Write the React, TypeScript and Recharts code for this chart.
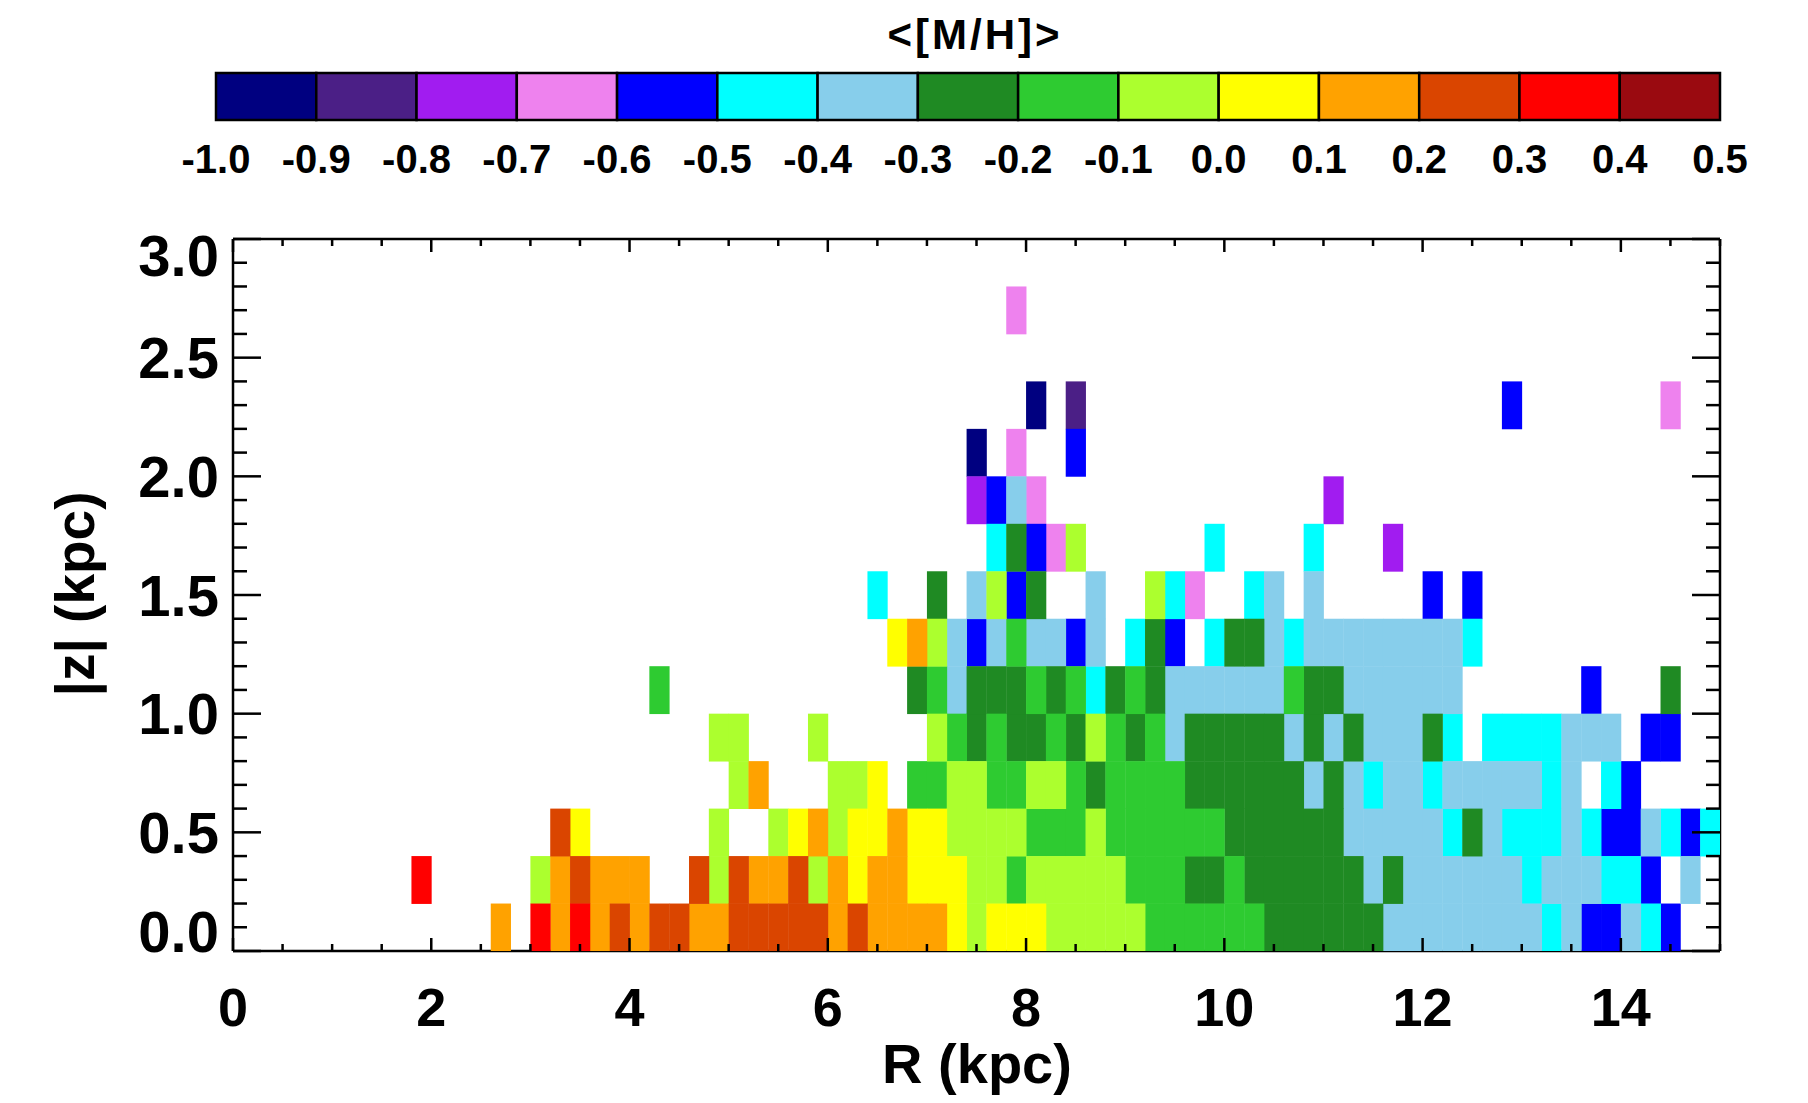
import React from 'react'
import { ScatterChart, Scatter, XAxis, YAxis } from 'recharts'

// <[M/H]> colour bins: edges and colours (lowest bin first)
const mhEdges = [-1.0, -0.9, -0.8, -0.7, -0.6, -0.5, -0.4, -0.3, -0.2, -0.1, 0.0, 0.1, 0.2, 0.3, 0.4, 0.5]
const mhColors = [
  '#000080', '#4b1f86', '#a11cf0', '#ee82ee', '#0000ff', '#00ffff', '#87ceeb', '#1f8a23',
  '#2ecb31', '#acff2e', '#ffff00', '#ffa200', '#da4500', '#ff0000', '#9a0a10',
]
// letter used in the map below for each colour bin ('.' = empty bin)
const binLetters = 'abcdefghijklmno'

const R_STEP = 0.2
const Z_STEP = 0.2

// mean [M/H] map, one string per |z| bin (0.0-0.2 kpc first),
// one letter per R bin of 0.2 kpc starting at R = 0 (grouped by 10)
const z00 = '.......... ...l.nlnlm lmmllmmmmm lmllllkjkk kjjjjjiiii iihhhhhhgg ggggggfgee gfe..'
const z02 = '.........n .....jlmll l..mjmllmj lkllkkkjji jjjjjiiihh ihhhhhhghg gggggfgggf fe.g.'
const z04 = '.......... ......mk.. ....j..jkl jkklkkjjjj iiijiiiiii hhhhhhgggg gfhgfffgfe egfef'
const z06 = '.......... .......... .....jl... jjk.iijjii jjihiiiihh hhhhghgfgg fgggggfg.f e....'
const z08 = '.......... .......... ....jj...j .....jihih hihjihighh hhhghghggg hf.ffffggg .ee..'
const z10 = '.......... .......... .i........ ....highhh ihifhihggg gggihhgggg gg......e. ..h..'
const z12 = '.......... .......... .......... ...kljgegi ggeg.fhe.f hhgfgggggg ggf....... .....'
const z14 = '.......... .......... .......... ..f..h.gje h..g..jfd. .fg.g..... e.e....... .....'
const z16 = '.......... .......... .......... ........fh edj......f ....f...c. .......... .....'
const z18 = '.......... .......... .......... .......ceg d......... .....c.... .......... .....'
const z20 = '.......... .......... .......... .......a.d ..e....... .......... .......... .....'
const z22 = '.......... .......... .......... .......... a.b....... .......... ....e..... ..d..'
const z24 = '.......... .......... .......... .......... .......... .......... .......... .....'
const z26 = '.......... .......... .......... .........d .......... .......... .......... .....'
const zRows = [z00, z02, z04, z06, z08, z10, z12, z14, z16, z18, z20, z22, z24, z26]

const xTicks = [0, 0.5, 1, 1.5, 2, 2.5, 3, 3.5, 4, 4.5, 5, 5.5, 6, 6.5, 7, 7.5, 8, 8.5, 9, 9.5, 10, 10.5, 11, 11.5, 12, 12.5, 13, 13.5, 14, 14.5, 15]
const xMajorTicks = [0, 2, 4, 6, 8, 10, 12, 14]
const yTicks = [0, 0.1, 0.2, 0.3, 0.4, 0.5, 0.6, 0.7, 0.8, 0.9, 1.0, 1.1, 1.2, 1.3, 1.4, 1.5, 1.6, 1.7, 1.8, 1.9, 2.0, 2.1, 2.2, 2.3, 2.4, 2.5, 2.6, 2.7, 2.8, 2.9, 3.0]
const yMajorTicks = [0, 0.5, 1.0, 1.5, 2.0, 2.5, 3.0]
const cbTicks = mhEdges

type Cell = { r: number; z: number; bin: number }

const cells: Cell[] = []
zRows.forEach((row, j) => {
  row.replace(/ /g, '').split('').forEach((ch, i) => {
    const bin = binLetters.indexOf(ch)
    if (bin >= 0) cells.push({ r: (i + 0.5) * R_STEP, z: (j + 0.5) * Z_STEP, bin })
  })
})

const segments = mhColors.map((_, k) => ({ v: (mhEdges[k] + mhEdges[k + 1]) / 2, y: 0.5, bin: k }))

// layout
const W = 1792
const H = 1087
const M = { top: 230, right: 79, bottom: 44, left: 110 }
const Y_AXIS_W = 115
const X_AXIS_H = 100
const TOP_AXIS_H = 1
const RIGHT_AXIS_W = 1
const PLOT_W = W - M.left - Y_AXIS_W - M.right - RIGHT_AXIS_W
const PLOT_H = H - M.top - M.bottom - X_AXIS_H - TOP_AXIS_H
const CELL_W = (PLOT_W * R_STEP) / 15
const CELL_H = (PLOT_H * Z_STEP) / 3

const CB_H = 200
const CB_M = { top: 65, right: 80, bottom: 20, left: 208 }
const CB_AXIS_H = 68
const CB_PLOT_W = W - CB_M.left - CB_M.right
const CB_PLOT_H = CB_H - CB_M.top - CB_M.bottom - CB_AXIS_H
const SEG_W = CB_PLOT_W / mhColors.length

const font = '"Liberation Sans", Arial, Helvetica, sans-serif'
const lineW = 2.5

function BottomTick(props: any) {
  const { x, y, payload } = props
  const v = payload.value
  const major = xMajorTicks.includes(v)
  return (
    <g>
      <line x1={x} x2={x} y1={y} y2={y - (major ? 13 : 7)} stroke="#000" strokeWidth={lineW} />
      {major && (
        <text x={x} y={y + 56} textAnchor="middle" dominantBaseline="central" fontFamily={font} fontWeight="bold" fontSize={54} fill="#000">
          {v}
        </text>
      )}
    </g>
  )
}

function TopTick(props: any) {
  const { x, y, payload } = props
  const major = xMajorTicks.includes(payload.value)
  return <line x1={x} x2={x} y1={y} y2={y + (major ? 13 : 7)} stroke="#000" strokeWidth={lineW} />
}

function LeftTick(props: any) {
  const { x, y, payload } = props
  const v = payload.value
  const major = yMajorTicks.includes(v)
  // IDL pulls the end labels inside the frame
  const shift = v === 3 ? 16 : v === 0 ? -20 : 0
  return (
    <g>
      <line x1={x} x2={x + (major ? 28 : 14)} y1={y} y2={y} stroke="#000" strokeWidth={lineW} />
      {major && (
        <text x={x - 14} y={y + shift} textAnchor="end" dominantBaseline="central" fontFamily={font} fontWeight="bold" fontSize={58} fill="#000">
          {v.toFixed(1)}
        </text>
      )}
    </g>
  )
}

function RightTick(props: any) {
  const { x, y, payload } = props
  const major = yMajorTicks.includes(payload.value)
  return <line x1={x} x2={x - (major ? 28 : 14)} y1={y} y2={y} stroke="#000" strokeWidth={lineW} />
}

function ColorbarTick(props: any) {
  const { x, y, payload } = props
  return (
    <text x={x} y={y + 39} textAnchor="middle" dominantBaseline="central" fontFamily={font} fontWeight="bold" fontSize={40} fill="#000">
      {payload.value.toFixed(1)}
    </text>
  )
}

const cellShape = (fill: string) => (p: any) => (
  <rect x={p.cx - CELL_W / 2} y={p.cy - CELL_H / 2} width={CELL_W + 0.4} height={CELL_H + 0.4} fill={fill} />
)

const noShape = () => <g />

const segShape = (p: any) => (
  <rect
    x={p.cx - SEG_W / 2}
    y={p.cy - CB_PLOT_H / 2}
    width={SEG_W}
    height={CB_PLOT_H}
    fill={mhColors[p.payload.bin]}
    stroke="#000"
    strokeWidth={lineW}
  />
)

const titleStyle: React.CSSProperties = {
  position: 'absolute',
  fontFamily: font,
  fontWeight: 'bold',
  lineHeight: 1,
  whiteSpace: 'nowrap',
  color: '#000',
}

export default function App() {
  return (
    <div style={{ position: 'relative', width: W, height: H, background: '#fff' }}>
      <div style={{ position: 'absolute', left: 0, top: 0 }}>
        <ScatterChart width={W} height={CB_H} margin={CB_M}>
          <XAxis
            type="number"
            dataKey="v"
            domain={[-1, 0.5]}
            ticks={cbTicks}
            interval={0}
            height={CB_AXIS_H}
            tickSize={0}
            tickMargin={0}
            tickLine={false}
            axisLine={false}
            tick={(p: any) => <ColorbarTick {...p} />}
          />
          <YAxis type="number" dataKey="y" domain={[0, 1]} hide />
          <Scatter data={segments} shape={segShape} isAnimationActive={false} />
        </ScatterChart>
      </div>

      <div style={{ position: 'absolute', left: 0, top: 0 }}>
        <ScatterChart width={W} height={H} margin={M}>
          {mhColors.map((color, k) => (
            <Scatter
              key={k}
              data={cells.filter((c) => c.bin === k)}
              shape={cellShape(color)}
              isAnimationActive={false}
            />
          ))}
          {/* invisible copy tied to the top / right frame axes */}
          <Scatter xAxisId="top" yAxisId="right" data={cells} shape={noShape} isAnimationActive={false} />
          <XAxis
            type="number"
            dataKey="r"
            domain={[0, 15]}
            allowDataOverflow
            ticks={xTicks}
            interval={0}
            height={X_AXIS_H}
            tickSize={0}
            tickMargin={0}
            tickLine={false}
            axisLine={{ stroke: '#000', strokeWidth: lineW }}
            tick={(p: any) => <BottomTick {...p} />}
          />
          <XAxis
            xAxisId="top"
            orientation="top"
            type="number"
            dataKey="r"
            domain={[0, 15]}
            allowDataOverflow
            ticks={xTicks}
            interval={0}
            height={TOP_AXIS_H}
            tickSize={0}
            tickMargin={0}
            tickLine={false}
            axisLine={{ stroke: '#000', strokeWidth: lineW }}
            tick={(p: any) => <TopTick {...p} />}
          />
          <YAxis
            type="number"
            dataKey="z"
            domain={[0, 3]}
            allowDataOverflow
            ticks={yTicks}
            interval={0}
            width={Y_AXIS_W}
            tickSize={0}
            tickMargin={0}
            tickLine={false}
            axisLine={{ stroke: '#000', strokeWidth: lineW }}
            tick={(p: any) => <LeftTick {...p} />}
          />
          <YAxis
            yAxisId="right"
            orientation="right"
            type="number"
            dataKey="z"
            domain={[0, 3]}
            allowDataOverflow
            ticks={yTicks}
            interval={0}
            width={RIGHT_AXIS_W}
            tickSize={0}
            tickMargin={0}
            tickLine={false}
            axisLine={{ stroke: '#000', strokeWidth: lineW }}
            tick={(p: any) => <RightTick {...p} />}
          />
        </ScatterChart>
      </div>

      <div style={{ ...titleStyle, left: 967, top: 27, fontSize: 42, letterSpacing: 3, transform: 'translate(-50%, -50%)' }}>
        {'<[M/H]>'}
      </div>
      <div style={{ ...titleStyle, left: 969, top: 1056, fontSize: 56, transform: 'translate(-50%, -50%)' }}>
        R (kpc)
      </div>
      <div style={{ ...titleStyle, left: 67, top: 586, fontSize: 55, transform: 'translate(-50%, -50%) rotate(-90deg)' }}>
        |z| (kpc)
      </div>
    </div>
  )
}
